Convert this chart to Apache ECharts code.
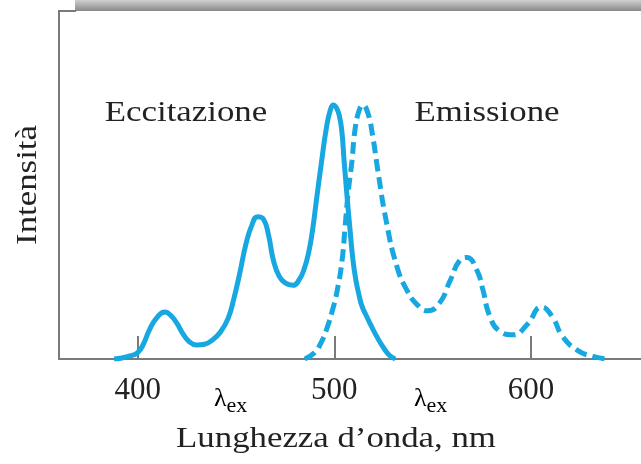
<!DOCTYPE html>
<html>
<head>
<meta charset="utf-8">
<script src="https://cdn.jsdelivr.net/npm/echarts@6/dist/echarts.min.js"></script>
<style>
html,body{margin:0;padding:0;background:#fff;}
#chart{width:641px;height:464px;}
</style>
</head>
<body>
<div id="chart"></div>
<script>
// Excitation spectrum (solid)
var excitationWavelength = [388, 392, 396, 400, 403, 406, 410, 414, 417, 420, 423, 426, 430, 434, 438, 442, 446, 449, 452, 455, 458, 461, 464, 466.5, 469, 472, 475, 479, 482, 484.5, 487, 489, 491, 493.5, 496, 498, 499.5, 501, 502.5, 503.8, 505, 506.5, 508, 509.5, 511, 512.5, 514, 516, 518.5, 521.5, 525, 528, 531];
var excitationIntensity = [0, 0.4, 1.2, 2.5, 6, 11.5, 16.5, 18.5, 17, 14, 10, 7, 5.5, 5.8, 7.5, 10.5, 16, 24, 34, 45, 52.5, 56, 55, 49, 39, 32.5, 30, 29, 31, 35, 42, 51, 63, 77.5, 91, 98, 100, 99, 96, 90, 78, 64, 51, 39, 31, 25.5, 21, 17.5, 13.5, 9, 4.5, 1.5, 0];
// Emission spectrum (dashed)
var emissionWavelength = [485, 490, 493, 496, 499, 501.5, 504, 505.5, 507, 509, 510.5, 512.5, 514.5, 517, 519.5, 522, 526.5, 532, 537, 542, 547.5, 553.5, 559, 564, 567.5, 572.5, 575.5, 579, 584, 591, 598, 605.5, 611, 616, 623.5, 631.5, 639];
var emissionIntensity = [0, 2.5, 6, 11.5, 19, 27, 39, 52, 65, 78, 90, 97.5, 100, 97, 88, 75, 54, 36, 27, 21.5, 19, 22, 31, 39, 40, 35, 27.5, 17, 11, 9.5, 13.5, 20.5, 16.5, 9, 3.5, 1, 0];
var tickValues = [400, 500, 600];
var seriesNames = ['Eccitazione', 'Emissione'];
var yTitle = 'Intensità';
var xTitle = 'Lunghezza d\u2019onda, nm';

function pairs(xs, ys) { return xs.map(function (x, i) { return [x, ys[i]]; }); }

var blue = '#17a7e1';
var axisGray = '#7a7a7a';
var serif = '"Liberation Serif", "DejaVu Serif", serif';
var stretch = 1.16;

function label(text, x, y, extra) {
  var el = {
    type: 'text', x: x, y: y, scaleX: stretch,
    style: { text: text, fill: '#222', font: '30px ' + serif, textAlign: 'center', textVerticalAlign: 'middle' }
  };
  if (extra) { for (var k in extra) el[k] = extra[k]; }
  return el;
}
var lambdaRich = {
  l: { fontSize: 26, fontFamily: serif, color: '#222' },
  s: { fontSize: 22, fontFamily: serif, color: '#222', padding: [14, 0, 0, 0] }
};

var chart = echarts.init(document.getElementById('chart'), null, { renderer: 'canvas' });
chart.setOption({
  animation: false,
  backgroundColor: '#fff',
  grid: { left: 59, right: 0, top: 11, bottom: 105 },
  xAxis: {
    type: 'value', min: 360, max: 656,
    axisLine: { show: true, onZero: false, lineStyle: { color: axisGray, width: 2 } },
    axisTick: { show: true, inside: true, length: 23, customValues: tickValues, lineStyle: { color: axisGray, width: 2 } },
    axisLabel: { show: true, customValues: tickValues, margin: 16, color: '#222', fontFamily: serif, fontSize: 31 },
    splitLine: { show: false }
  },
  yAxis: {
    type: 'value', min: 0, max: 137,
    axisLine: { show: true, lineStyle: { color: axisGray, width: 2 } },
    axisTick: { show: false }, axisLabel: { show: false }, splitLine: { show: false }
  },
  series: [
    {
      name: seriesNames[0], type: 'line', data: pairs(excitationWavelength, excitationIntensity),
      smooth: 0.5, showSymbol: false, lineStyle: { color: blue, width: 5 }
    },
    {
      name: seriesNames[1], type: 'line', data: pairs(emissionWavelength, emissionIntensity),
      smooth: 0.5, showSymbol: false, lineStyle: { color: blue, width: 5, type: [12, 6] }
    }
  ],
  graphic: [
    { type: 'rect', left: 75, top: 0, shape: { width: 566, height: 11 },
      style: { fill: new echarts.graphic.LinearGradient(0, 0, 0, 1, [{ offset: 0, color: '#d0d0d0' }, { offset: 1, color: '#888888' }]) } },
    { type: 'line', shape: { x1: 58, y1: 11, x2: 76, y2: 11 }, style: { stroke: axisGray, lineWidth: 2 } },
    label(seriesNames[0], 186, 113),
    label(seriesNames[1], 487, 113),
    label(xTitle, 336, 439),
    label(yTitle, 28, 185, { rotation: Math.PI / 2 }),
    { type: 'text', left: 214, top: 386, style: { text: '{l|\u03bb}{s|ex}', rich: lambdaRich } },
    { type: 'text', left: 414, top: 386, style: { text: '{l|\u03bb}{s|ex}', rich: lambdaRich } }
  ]
});
</script>
</body>
</html>
